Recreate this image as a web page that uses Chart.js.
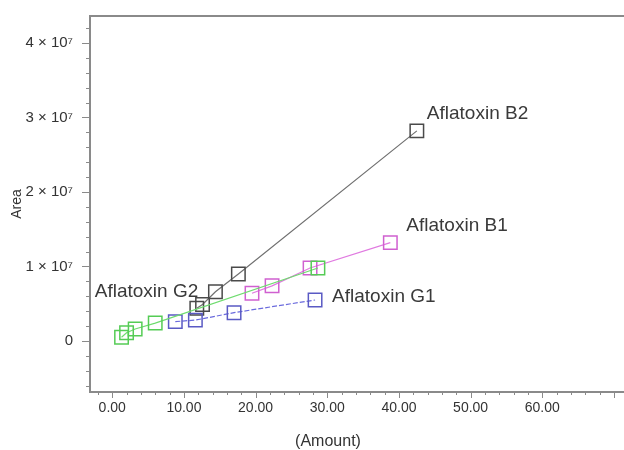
<!DOCTYPE html>
<html><head><meta charset="utf-8">
<script src="https://cdn.jsdelivr.net/npm/chart.js@4.4.1/dist/chart.umd.min.js"></script>
<style>html,body{margin:0;padding:0;background:#fff;overflow:hidden}#wrap{width:624px;height:450px;position:relative}</style>
</head><body><div id="wrap"><canvas id="c"></canvas></div>
<script>
// ---- data ----
const b2Amount = [11.8, 12.6, 14.4, 17.6, 42.5];
const b2Area   = [4.4e6, 4.9e6, 6.6e6, 9.0e6, 2.82e7];
const b1Amount = [19.5, 22.3, 27.6, 38.8];
const b1Area   = [6.4e6, 7.4e6, 9.8e6, 1.32e7];
const g2Amount = [1.3, 2.0, 3.2, 6.0, 28.7];
const g2Area   = [0.5e6, 1.1e6, 1.6e6, 2.4e6, 9.8e6];
const g1Amount = [8.8, 11.6, 17.0, 28.3];
const g1Area   = [2.6e6, 2.8e6, 3.8e6, 5.5e6];
const seriesNames = ['Aflatoxin B2', 'Aflatoxin B1', 'Aflatoxin G2', 'Aflatoxin G1'];
const xTickValues = [0, 10, 20, 30, 40, 50, 60];
const xTickLabels = ['0.00', '10.00', '20.00', '30.00', '40.00', '50.00', '60.00'];
const yTickValues = [0, 1e7, 2e7, 3e7, 4e7];
const yTickLabels = ['0', '1 × 10⁷', '2 × 10⁷', '3 × 10⁷', '4 × 10⁷'];
const xTitle = '(Amount)';
const yTitle = 'Area';

const FONT = '"Liberation Sans", Arial, sans-serif';
const AXIS = '#8a8a8a';
const pts = (xs, ys) => xs.map((v, i) => ({x: v, y: ys[i]}));

function series(name, xs, ys, line, mark, extra) {
  return Object.assign({
    label: name, data: pts(xs, ys), showLine: true,
    borderColor: line, borderWidth: 1.2,
    pointStyle: 'rect', pointRadius: 9.5, pointBorderWidth: 1.5,
    pointBorderColor: mark, pointBackgroundColor: 'rgba(0,0,0,0)',
    pointHoverRadius: 9.5
  }, extra || {});
}

const datasets = [
  series(seriesNames[2], g2Amount, g2Area, '#6fdc6f', '#55cc55', {tag: {idx: 3, dx: 43, dy: -31, align: 'right'}}),
  series(seriesNames[3], g1Amount, g1Area, '#6b6bdd', '#5a5ac4', {borderDash: [5, 2], tag: {idx: 3, dx: 17, dy: -3, align: 'left'}}),
  series(seriesNames[1], b1Amount, b1Area, '#e07ae0', '#d060d0', {tag: {idx: 3, dx: 16, dy: -17, align: 'left'}}),
  series(seriesNames[0], b2Amount, b2Area, '#707070', '#4a4a4a', {tag: {idx: 4, dx: 10, dy: -17, align: 'left'}})
];

const zeroPad = s => { s.paddingTop = 0; s.paddingBottom = 0; s.paddingLeft = 0; s.paddingRight = 0; };

const tickPlugin = {
  id: 'ticksAndLabels',
  afterDraw(chart) {
    const {ctx, chartArea: a, scales: {x, y}} = chart;
    ctx.save();
    // top frame line
    ctx.strokeStyle = AXIS;
    ctx.lineWidth = 2;
    ctx.beginPath(); ctx.moveTo(a.left - 1, a.top); ctx.lineTo(a.right, a.top); ctx.stroke();
    ctx.lineWidth = 1;
    x.ticks.forEach(t => {
      const p = Math.round(x.getPixelForValue(t.value)) + 0.5;
      const len = (t.value % 10 === 0) ? 6 : 3;
      ctx.beginPath(); ctx.moveTo(p, a.bottom); ctx.lineTo(p, a.bottom + len); ctx.stroke();
    });
    y.ticks.forEach(t => {
      const p = Math.round(y.getPixelForValue(t.value)) + 0.5;
      const len = (Math.round(t.value / 2e6) % 5 === 0) ? 8 : 4;
      ctx.beginPath(); ctx.moveTo(a.left - len, p); ctx.lineTo(a.left, p); ctx.stroke();
    });
    // series labels
    ctx.fillStyle = '#3a3a3a';
    ctx.font = '19px ' + FONT;
    ctx.textBaseline = 'middle';
    chart.data.datasets.forEach((ds, i) => {
      const el = chart.getDatasetMeta(i).data[ds.tag.idx];
      ctx.textAlign = ds.tag.align;
      ctx.fillText(ds.label, el.x + ds.tag.dx, el.y + ds.tag.dy);
    });
    // x axis title
    ctx.font = '16px ' + FONT;
    ctx.textAlign = 'center';
    ctx.fillStyle = '#333';
    ctx.fillText(xTitle, 328, 442);
    ctx.restore();
  }
};

new Chart(document.getElementById('c'), {
  type: 'scatter',
  data: {datasets},
  options: {
    responsive: true, maintainAspectRatio: false, animation: false,
    layout: {autoPadding: false, padding: {top: 16, left: 0, right: 0, bottom: 0}},
    plugins: {legend: {display: false}, tooltip: {enabled: false}},
    scales: {
      x: {
        type: 'linear', position: 'bottom', min: -3.1, max: 71.4,
        afterBuildTicks: s => { const t = []; for (let i = -1; i <= 35; i++) t.push({value: i * 2}); s.ticks = t; },
        ticks: {
          autoSkip: false, maxRotation: 0, padding: 8, color: '#333', font: {size: 14, family: FONT},
          callback: v => { const k = xTickValues.indexOf(v); return k >= 0 ? xTickLabels[k] : ''; }
        },
        grid: {display: false, drawTicks: false},
        border: {display: true, color: AXIS, width: 2},
        afterFit: s => { s.height = 58; zeroPad(s); }
      },
      y: {
        type: 'linear', position: 'left', min: -6.85e6, max: 4.362e7,
        afterBuildTicks: s => { const t = []; for (let i = -3; i <= 21; i++) t.push({value: i * 2e6}); s.ticks = t; },
        ticks: {
          autoSkip: false, padding: 17, color: '#333', font: {size: 15, family: FONT},
          callback: v => { const k = yTickValues.indexOf(v); return k >= 0 ? yTickLabels[k] : ''; }
        },
        grid: {display: false, drawTicks: false},
        border: {display: true, color: AXIS, width: 2},
        title: {display: true, text: yTitle, color: '#333', font: {size: 14, family: FONT}, padding: {top: 9, bottom: 0}},
        afterFit: s => { s.width = 90; zeroPad(s); }
      }
    }
  },
  plugins: [tickPlugin]
});
</script>
</body></html>
